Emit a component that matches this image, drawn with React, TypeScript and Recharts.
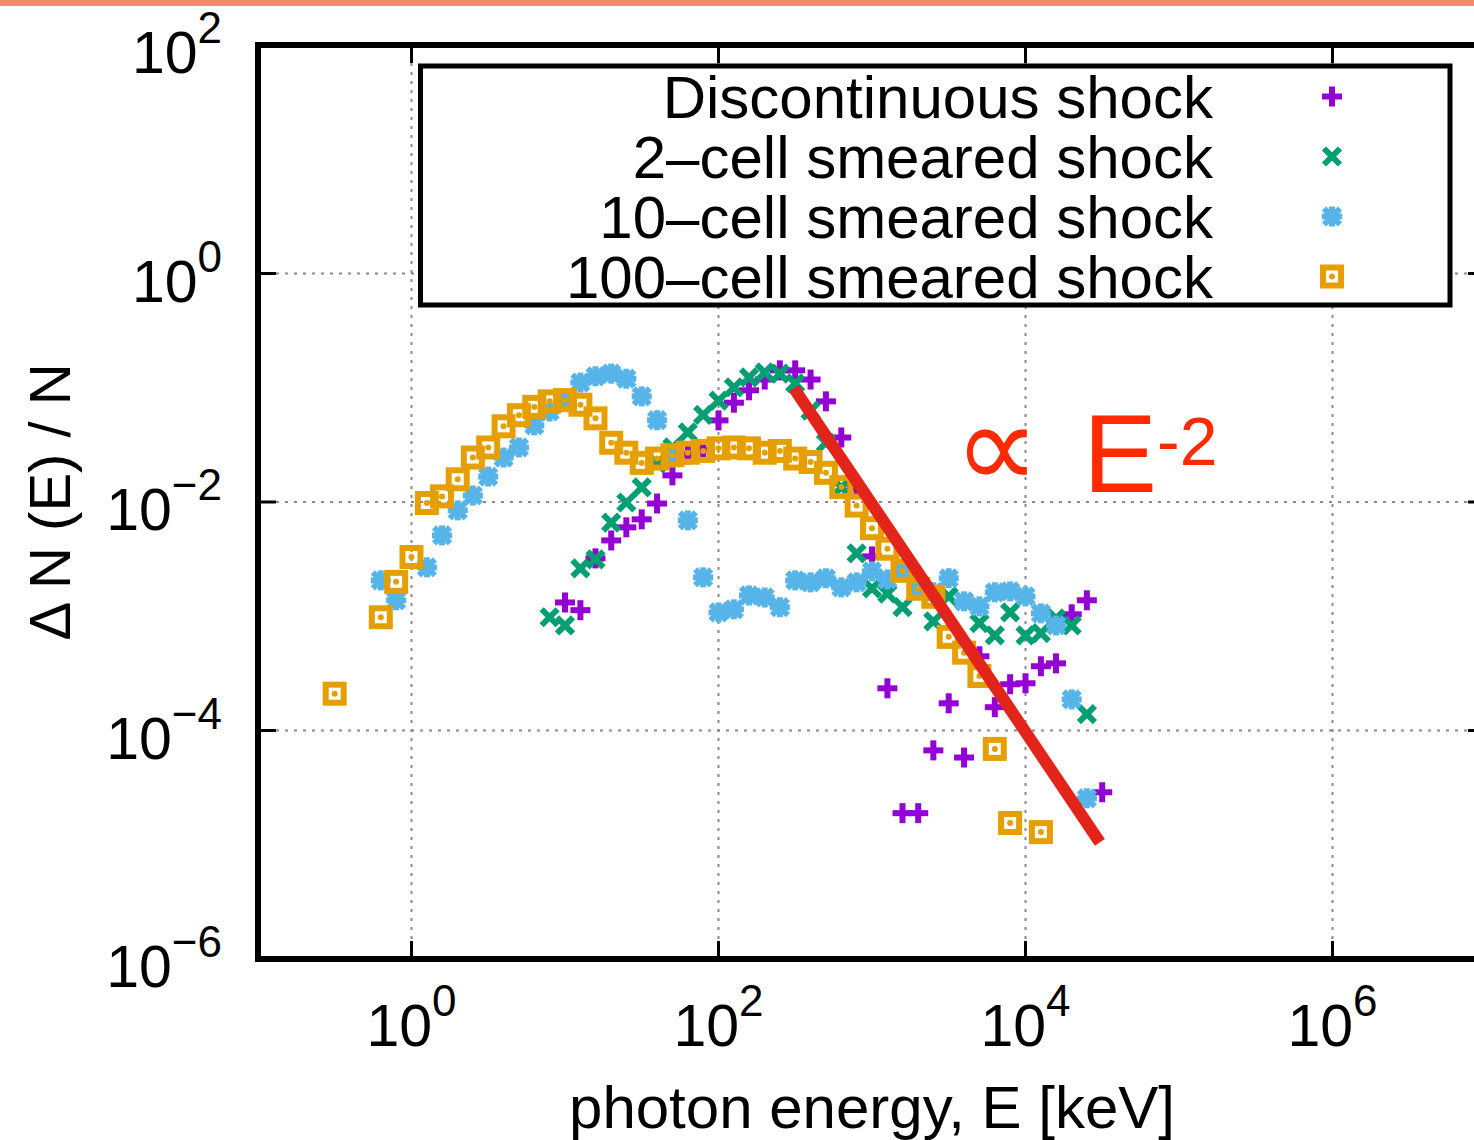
import React from "react";
import {
  CartesianGrid,
  ReferenceArea,
  Scatter,
  ScatterChart,
  XAxis,
  YAxis,
} from "recharts";

// photon energy [keV] and dN(E)/N
const discE = [10, 12.6, 15.8, 20, 25.1, 31.6, 39.8, 50.1, 63.1, 79.4, 100, 126, 158, 200, 251, 316, 398, 501, 631, 794, 1000, 1260, 1580, 2000, 2510, 3160, 3980, 5010, 6310, 7940, 10000, 12600, 15800, 20000, 25100, 31600];
const discR = [1.32e-3, 1.13e-3, 3.21e-3, 4.61e-3, 6.0e-3, 7.05e-3, 9.7e-3, 1.71e-2, 2.61e-2, 2.88e-2, 5.18e-2, 7.4e-2, 9.5e-2, 0.118, 0.142, 0.142, 0.118, 7.6e-2, 3.67e-2, 1.32e-2, 3.34e-3, 2.34e-4, 1.89e-5, 1.89e-5, 6.7e-5, 1.73e-4, 5.8e-5, 4.46e-4, 1.6e-4, 2.54e-4, 2.59e-4, 3.65e-4, 3.87e-4, 1.04e-3, 1.38e-3, 2.88e-5];

const twoE = [7.94, 10, 12.6, 15.8, 20, 25.1, 31.6, 39.8, 50.1, 63.1, 79.4, 100, 126, 158, 200, 251, 316, 398, 501, 631, 794, 1000, 1260, 1580, 2510, 3160, 5010, 6310, 7940, 10000, 12600, 15800, 20000, 25100];
const twoR = [9.8e-4, 8.3e-4, 2.62e-3, 3.15e-3, 6.6e-3, 9.9e-3, 1.34e-2, 2.18e-2, 3.0e-2, 4.06e-2, 5.8e-2, 7.7e-2, 0.101, 0.123, 0.136, 0.133, 0.109, 6.3e-2, 3.3e-2, 1.34e-2, 3.55e-3, 1.75e-3, 1.58e-3, 1.2e-3, 9.0e-4, 1.49e-3, 8.7e-4, 6.8e-4, 1.08e-3, 6.8e-4, 7.1e-4, 9.6e-4, 8.3e-4, 1.39e-4];

const tenE = [0.631, 0.794, 1.26, 1.58, 2.0, 2.51, 3.16, 3.98, 5.01, 6.31, 7.94, 10, 12.6, 15.8, 20, 25.1, 31.6, 39.8, 50.1, 63.1, 79.4, 100, 126, 158, 200, 251, 316, 398, 501, 631, 794, 1000, 1260, 1580, 2000, 2510, 3160, 3980, 5010, 6310, 7940, 10000, 12600, 15800, 20000, 25100];
const tenR = [2.06e-3, 1.38e-3, 2.68e-3, 5.1e-3, 8.45e-3, 1.14e-2, 1.67e-2, 2.45e-2, 3.0e-2, 4.68e-2, 6.2e-2, 7.7e-2, 0.111, 0.126, 0.133, 0.12, 8.4e-2, 5.2e-2, 2.45e-2, 6.9e-3, 2.19e-3, 1.08e-3, 1.15e-3, 1.52e-3, 1.46e-3, 1.2e-3, 2.06e-3, 1.98e-3, 2.15e-3, 1.79e-3, 1.98e-3, 2.47e-3, 2.1e-3, 2.42e-3, 1.69e-3, 1.62e-3, 2.15e-3, 1.35e-3, 1.22e-3, 1.62e-3, 1.65e-3, 1.49e-3, 1.06e-3, 8.3e-4, 1.87e-4, 2.55e-5];

const hundredE = [0.316, 0.631, 0.794, 1, 1.26, 1.58, 2.0, 2.51, 3.16, 3.98, 5.01, 6.31, 7.94, 10, 12.6, 15.8, 20, 25.1, 31.6, 39.8, 50.1, 63.1, 79.4, 100, 126, 158, 200, 251, 316, 398, 501, 631, 794, 1000, 1260, 1580, 2000, 2510, 3160, 3980, 5010, 6310, 7940, 12600];
const hundredR = [2.1e-4, 9.8e-4, 2.0e-3, 3.3e-3, 9.8e-3, 1.12e-2, 1.58e-2, 2.45e-2, 3.0e-2, 4.6e-2, 5.75e-2, 6.8e-2, 7.6e-2, 7.8e-2, 7.1e-2, 5.4e-2, 3.3e-2, 2.7e-2, 2.2e-2, 2.4e-2, 2.57e-2, 2.7e-2, 2.8e-2, 2.95e-2, 3.0e-2, 2.95e-2, 2.7e-2, 2.8e-2, 2.4e-2, 2.24e-2, 1.8e-2, 1.35e-2, 9.3e-3, 5.9e-3, 3.9e-3, 2.5e-3, 1.74e-3, 1.48e-3, 6.6e-4, 4.8e-4, 3.0e-4, 6.9e-5, 1.55e-5, 1.29e-5];

// E^-2 guide line end points
const fitE = [310, 30500];
const fitR = [0.099, 1.05e-5];

const xTicks = [1, 100, 1e4, 1e6];
const yTicks = [1e-6, 1e-4, 1e-2, 1, 100];
const legendLabels = [
  "Discontinuous shock",
  "2–cell smeared shock",
  "10–cell smeared shock",
  "100–cell smeared shock",
];

const FONT = "'Liberation Sans', Arial, Helvetica, sans-serif";
const CHART_W = 1600;
const CHART_H = 1140;
const PLOT = { left: 258, top: 45, right: 1486, bottom: 959 };
const COLORS = {
  disc: "#9400d3",
  two: "#009e73",
  ten: "#56b4e9",
  hundred: "#e69f00",
  fit: "#e3241a",
  note: "#ff2a00",
  grid: "#8a8a8a",
};

const zip = (e: number[], r: number[]) => e.map((E, i) => ({ E, r: r[i] }));

function Plus({ cx, cy }: any) {
  return (
    <g stroke={COLORS.disc} strokeWidth={6}>
      <line x1={cx - 10} y1={cy} x2={cx + 10} y2={cy} />
      <line x1={cx} y1={cy - 10} x2={cx} y2={cy + 10} />
    </g>
  );
}

function Cross({ cx, cy }: any) {
  return (
    <g stroke={COLORS.two} strokeWidth={6}>
      <line x1={cx - 8} y1={cy - 8} x2={cx + 8} y2={cy + 8} />
      <line x1={cx - 8} y1={cy + 8} x2={cx + 8} y2={cy - 8} />
    </g>
  );
}

function Star({ cx, cy }: any) {
  return (
    <g stroke={COLORS.ten} strokeWidth={6}>
      <line x1={cx - 10} y1={cy} x2={cx + 10} y2={cy} />
      <line x1={cx} y1={cy - 10} x2={cx} y2={cy + 10} />
      <line x1={cx - 8} y1={cy - 8} x2={cx + 8} y2={cy + 8} />
      <line x1={cx - 8} y1={cy + 8} x2={cx + 8} y2={cy - 8} />
    </g>
  );
}

function Box({ cx, cy }: any) {
  return (
    <g>
      <rect x={cx - 9} y={cy - 9} width={18} height={18} fill="none" stroke={COLORS.hundred} strokeWidth={6} />
      <circle cx={cx} cy={cy} r={3} fill={COLORS.hundred} />
    </g>
  );
}

const sup = (v: number) => {
  const p = Math.round(Math.log10(v));
  return p < 0 ? "−" + -p : String(p);
};

function XTick({ x, payload }: any) {
  return (
    <g>
      <line x1={x} y1={PLOT.bottom} x2={x} y2={PLOT.bottom - 18} stroke="#000" strokeWidth={3} />
      <line x1={x} y1={PLOT.top} x2={x} y2={PLOT.top + 18} stroke="#000" strokeWidth={3} />
      <text x={x} y={PLOT.bottom + 87} textAnchor="middle" fontSize={59} fontFamily={FONT} fill="#000">
        10<tspan dy={-30} fontSize={44}>{sup(payload.value)}</tspan>
      </text>
    </g>
  );
}

function YTick({ y, payload }: any) {
  return (
    <g>
      <line x1={PLOT.left} y1={y} x2={PLOT.left + 18} y2={y} stroke="#000" strokeWidth={3} />
      <line x1={PLOT.right} y1={y} x2={PLOT.right - 18} y2={y} stroke="#000" strokeWidth={3} />
      <text x={PLOT.left - 36} y={y + 28} textAnchor="end" fontSize={59} fontFamily={FONT} fill="#000">
        10<tspan dy={-30} fontSize={44}>{sup(payload.value)}</tspan>
      </text>
    </g>
  );
}

const markers = [Plus, Cross, Star, Box];

function Overlay() {
  const midY = PLOT.top + (PLOT.bottom - PLOT.top) / 2;
  return (
    <svg
      width={1474}
      height={1140}
      style={{ position: "absolute", left: 0, top: 0, pointerEvents: "none" }}
    >
      <rect x={0} y={0} width={1474} height={6} fill="#f8866f" />
      {/* legend */}
      <rect x={420.5} y={66} width={1029.5} height={239} fill="#fff" stroke="#000" strokeWidth={5} />
      {legendLabels.map((label, i) => {
        const M = markers[i];
        const cy = 96.5 + i * 60;
        return (
          <g key={label}>
            <text x={1213} y={cy + 21.5} textAnchor="end" fontSize={60} fontFamily={FONT} fill="#000">
              {label}
            </text>
            <M cx={1332} cy={cy} />
          </g>
        );
      })}
      {/* power-law note */}
      <text x={954} y={488} fontSize={120} fontFamily="'DejaVu Sans', sans-serif" fill={COLORS.note}>
        ∝
      </text>
      <text x={1083} y={492} fontSize={111} fontFamily={FONT} fill={COLORS.note}>
        E<tspan dy={-27} fontSize={68}>-2</tspan>
      </text>
      {/* axis titles */}
      <text
        x={70}
        y={midY}
        transform={`rotate(-90 70 ${midY})`}
        textAnchor="middle"
        fontSize={58}
        fontFamily={FONT}
        fill="#000"
      >
        Δ N (E) / N
      </text>
      <text x={(PLOT.left + PLOT.right) / 2} y={1128} textAnchor="middle" fontSize={60} fontFamily={FONT} fill="#000">
        photon energy, E [keV]
      </text>
    </svg>
  );
}

export default function App() {
  return (
    <div
      style={{
        position: "fixed",
        left: 0,
        top: 0,
        width: 1474,
        height: 1140,
        overflow: "hidden",
        background: "#fff",
      }}
    >
      <ScatterChart
        width={CHART_W}
        height={CHART_H}
        margin={{ top: PLOT.top, right: CHART_W - PLOT.right, bottom: 0, left: 0 }}
      >
        <CartesianGrid stroke={COLORS.grid} strokeWidth={2} strokeDasharray="3 6" />
        <XAxis
          type="number"
          dataKey="E"
          scale="log"
          domain={[0.1, 1e7]}
          ticks={xTicks}
          interval={0}
          allowDataOverflow
          axisLine={false}
          tickLine={false}
          tickSize={0}
          tickMargin={0}
          height={CHART_H - PLOT.bottom}
          tick={<XTick />}
        />
        <YAxis
          type="number"
          dataKey="r"
          scale="log"
          domain={[1e-6, 100]}
          ticks={yTicks}
          interval={0}
          allowDataOverflow
          axisLine={false}
          tickLine={false}
          tickSize={0}
          tickMargin={0}
          width={PLOT.left}
          tick={<YTick />}
        />
        <ReferenceArea
          x1={0.1}
          x2={1e7}
          y1={1e-6}
          y2={100}
          fill="none"
          stroke="#000"
          strokeWidth={6}
          ifOverflow="visible"
        />
        <Scatter name="Discontinuous shock" data={zip(discE, discR)} shape={<Plus />} isAnimationActive={false} />
        <Scatter name="2-cell smeared shock" data={zip(twoE, twoR)} shape={<Cross />} isAnimationActive={false} />
        <Scatter name="10-cell smeared shock" data={zip(tenE, tenR)} shape={<Star />} isAnimationActive={false} />
        <Scatter name="100-cell smeared shock" data={zip(hundredE, hundredR)} shape={<Box />} isAnimationActive={false} />
        <Scatter
          name="E^-2"
          data={zip(fitE, fitR)}
          line={{ stroke: COLORS.fit, strokeWidth: 12 }}
          shape={() => <g />}
          isAnimationActive={false}
        />
      </ScatterChart>
      <Overlay />
    </div>
  );
}
